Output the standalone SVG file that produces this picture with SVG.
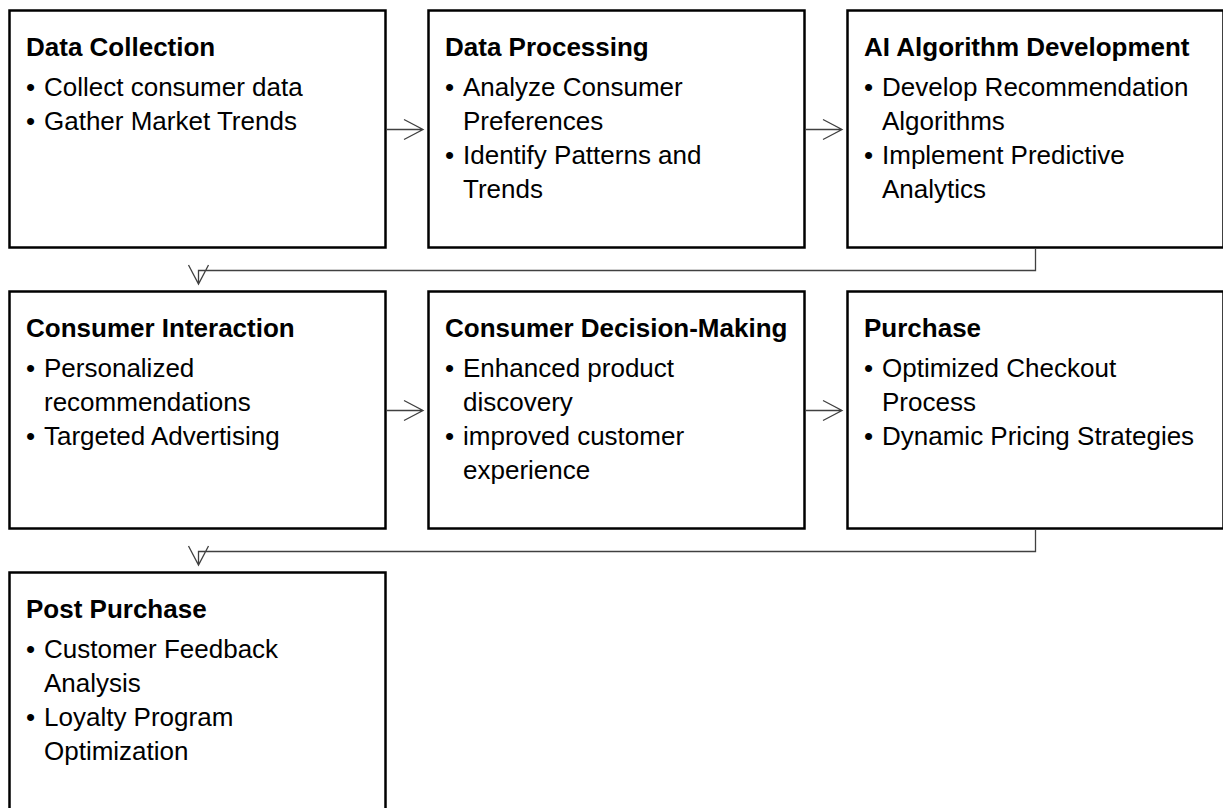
<svg xmlns="http://www.w3.org/2000/svg" width="1223" height="808" viewBox="0 0 1223 808">
<style>
.box{fill:#fff;stroke:#000;stroke-width:2.5}
.t{font-family:"Liberation Sans",Arial,sans-serif;font-size:26px;font-weight:bold;fill:#000}
.b{font-family:"Liberation Sans",Arial,sans-serif;font-size:26px;fill:#000}
.c{fill:none;stroke:#404040;stroke-width:1.3}
</style>
<rect width="1223" height="808" fill="#fff"/>
<g id="data-collection">
<rect class="box" x="9.5" y="10.5" width="376" height="237"/>
<text class="t" x="26" y="56">Data Collection</text>
<text class="b" x="26" y="96">•</text><text class="b" x="44" y="96">Collect consumer data</text>
<text class="b" x="26" y="130">•</text><text class="b" x="44" y="130">Gather Market Trends</text>
</g>
<g id="data-processing">
<rect class="box" x="428.5" y="10.5" width="376" height="237"/>
<text class="t" x="445" y="56">Data Processing</text>
<text class="b" x="445" y="96">•</text><text class="b" x="463" y="96">Analyze Consumer</text>
<text class="b" x="463" y="130">Preferences</text>
<text class="b" x="445" y="164">•</text><text class="b" x="463" y="164">Identify Patterns and</text>
<text class="b" x="463" y="198">Trends</text>
</g>
<g id="ai-algorithm-development">
<rect class="box" x="847.5" y="10.5" width="376" height="237"/>
<text class="t" x="864" y="56">AI Algorithm Development</text>
<text class="b" x="864" y="96">•</text><text class="b" x="882" y="96">Develop Recommendation</text>
<text class="b" x="882" y="130">Algorithms</text>
<text class="b" x="864" y="164">•</text><text class="b" x="882" y="164">Implement Predictive</text>
<text class="b" x="882" y="198">Analytics</text>
</g>
<g id="consumer-interaction">
<rect class="box" x="9.5" y="291.5" width="376" height="237"/>
<text class="t" x="26" y="337">Consumer Interaction</text>
<text class="b" x="26" y="377">•</text><text class="b" x="44" y="377">Personalized</text>
<text class="b" x="44" y="411">recommendations</text>
<text class="b" x="26" y="445">•</text><text class="b" x="44" y="445">Targeted Advertising</text>
</g>
<g id="consumer-decision-making">
<rect class="box" x="428.5" y="291.5" width="376" height="237"/>
<text class="t" x="445" y="337">Consumer Decision-Making</text>
<text class="b" x="445" y="377">•</text><text class="b" x="463" y="377">Enhanced product</text>
<text class="b" x="463" y="411">discovery</text>
<text class="b" x="445" y="445">•</text><text class="b" x="463" y="445">improved customer</text>
<text class="b" x="463" y="479">experience</text>
</g>
<g id="purchase">
<rect class="box" x="847.5" y="291.5" width="376" height="237"/>
<text class="t" x="864" y="337">Purchase</text>
<text class="b" x="864" y="377">•</text><text class="b" x="882" y="377">Optimized Checkout</text>
<text class="b" x="882" y="411">Process</text>
<text class="b" x="864" y="445">•</text><text class="b" x="882" y="445">Dynamic Pricing Strategies</text>
</g>
<g id="post-purchase">
<rect class="box" x="9.5" y="572.5" width="376" height="240"/>
<text class="t" x="26" y="618">Post Purchase</text>
<text class="b" x="26" y="658">•</text><text class="b" x="44" y="658">Customer Feedback</text>
<text class="b" x="44" y="692">Analysis</text>
<text class="b" x="26" y="726">•</text><text class="b" x="44" y="726">Loyalty Program</text>
<text class="b" x="44" y="760">Optimization</text>
</g>
<g id="connectors">
<path class="c" d="M387 129.5H423M404 119.5L423 129.5L404 139.5"/>
<path class="c" d="M806 129.5H842M823 119.5L842 129.5L823 139.5"/>
<path class="c" d="M387 410.5H423M404 400.5L423 410.5L404 420.5"/>
<path class="c" d="M806 410.5H842M823 400.5L842 410.5L823 420.5"/>
<path class="c" d="M1035.5 249V270.5H198.5V284M188.5 265L198.5 284L208.5 265"/>
<path class="c" d="M1035.5 530V551.5H198.5V565M188.5 546L198.5 565L208.5 546"/>
</g>
</svg>
